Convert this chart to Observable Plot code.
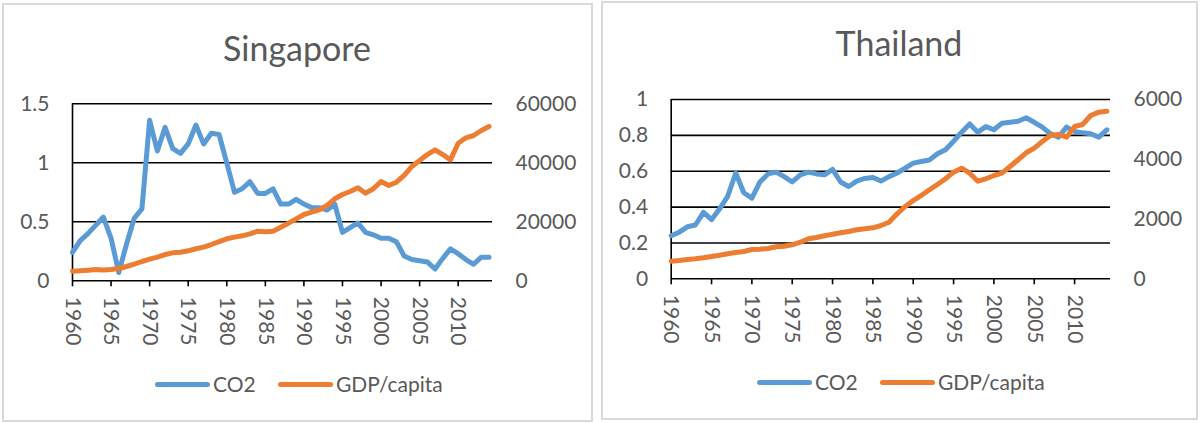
<!DOCTYPE html>
<html>
<head>
<meta charset="utf-8">
<script src="https://cdn.jsdelivr.net/npm/d3@7"></script>
<script src="https://cdn.jsdelivr.net/npm/@observablehq/plot@0.6"></script>
<style>
  body { margin: 0; background: #fff; font-family: Lato, "Open Sans", sans-serif; color: #595959; }
  #page { position: relative; width: 1200px; height: 423px; overflow: hidden; }
  .panel { position: absolute; border: 2px solid #d9d9d9; box-sizing: border-box; }
  .title { position: absolute; font-size: 34px; line-height: 1; white-space: nowrap; transform: translateX(-50%); }
  .chart { position: absolute; top: 90px; }
  .swatch { position: absolute; height: 5px; border-radius: 3px; }
  .ltext { position: absolute; font-size: 21px; line-height: 1; white-space: nowrap; }
</style>
</head>
<body>
<div id="page"></div>
<script>
// Years shared by both countries
const years = [1960,1961,1962,1963,1964,1965,1966,1967,1968,1969,
  1970,1971,1972,1973,1974,1975,1976,1977,1978,1979,
  1980,1981,1982,1983,1984,1985,1986,1987,1988,1989,
  1990,1991,1992,1993,1994,1995,1996,1997,1998,1999,
  2000,2001,2002,2003,2004,2005,2006,2007,2008,2009,
  2010,2011,2012,2013,2014];
const yearTicks = [1960,1965,1970,1975,1980,1985,1990,1995,2000,2005,2010];

// Singapore
const sgCO2 = [0.24,0.34,0.40,0.47,0.54,0.36,0.07,0.31,0.53,0.61,
  1.36,1.10,1.30,1.12,1.08,1.16,1.32,1.16,1.25,1.24,
  1.00,0.75,0.78,0.84,0.74,0.74,0.78,0.65,0.65,0.69,
  0.65,0.62,0.62,0.60,0.65,0.41,0.45,0.49,0.41,0.39,
  0.36,0.36,0.33,0.21,0.18,0.17,0.16,0.10,0.19,0.27,
  0.23,0.18,0.14,0.20,0.20];
const sgGDP = [3250,3400,3600,3830,3700,3830,4170,4850,5630,6540,
  7330,8000,8900,9480,9700,10170,10850,11400,12300,13300,
  14240,14800,15250,15930,16800,16600,16800,18170,19530,21000,
  22470,23250,24070,25530,27800,29250,30270,31530,29700,31190,
  33660,32300,33430,35700,38750,40780,42800,44400,42800,41000,
  46650,48470,49250,50950,52300];
const sgCO2Ticks = [0, 0.5, 1, 1.5];
const sgGDPTicks = [0, 20000, 40000, 60000];

// Thailand
const thCO2 = [0.24,0.26,0.29,0.30,0.37,0.33,0.39,0.46,0.59,0.48,
  0.45,0.54,0.585,0.595,0.57,0.54,0.58,0.595,0.585,0.58,
  0.61,0.54,0.515,0.545,0.56,0.565,0.545,0.57,0.59,0.617,
  0.645,0.654,0.663,0.697,0.72,0.767,0.818,0.864,0.818,0.849,
  0.831,0.868,0.873,0.879,0.898,0.873,0.846,0.809,0.79,0.846,
  0.822,0.814,0.809,0.79,0.831];
const thGDP = [590,612,646,669,703,746,790,837,880,914,
  981,991,1014,1071,1091,1138,1225,1339,1382,1439,
  1493,1540,1583,1640,1673,1707,1784,1894,2175,2420,
  2620,2788,2978,3156,3347,3568,3702,3534,3266,3347,
  3457,3534,3758,3983,4217,4371,4595,4796,4830,4739,
  5097,5164,5465,5576,5609];
const thCO2Ticks = [0, 0.2, 0.4, 0.6, 0.8, 1];
const thGDPTicks = [0, 2000, 4000, 6000];

const BLUE = "#5B9BD5", ORANGE = "#ED7D31", INK = "#595959";
const page = document.getElementById("page");

function el(tag, cls, css, text) {
  const e = document.createElement(tag);
  if (cls) e.className = cls;
  Object.assign(e.style, css);
  if (text != null) e.textContent = text;
  page.appendChild(e);
  return e;
}

// One dual-axis chart: CO2 on the left scale, GDP/capita drawn against the
// same y scale after dividing by k, with its own right-hand axis.
function chart({co2, gdp, co2Ticks, gdpTicks, margins}) {
  const yMax = co2Ticks[co2Ticks.length - 1];
  const k = gdpTicks[gdpTicks.length - 1] / yMax;
  const rows = years.map((year, i) => ({year, co2: co2[i], gdp: gdp[i]}));
  return Plot.plot({
    width: 600,
    height: 270,
    ...margins,
    style: {fontFamily: "Lato, 'Open Sans', sans-serif", fontSize: "21px", color: INK, background: "transparent", overflow: "visible"},
    x: {domain: [1960, 2014.45]},
    y: {domain: [0, yMax]},
    marks: [
      Plot.gridY(co2Ticks.filter(v => v > 0), {stroke: "#000", strokeOpacity: 1, strokeWidth: 1.6}),
      Plot.ruleY([0], {stroke: "#000", strokeWidth: 1.6}),
      Plot.ruleX([1960], {y1: 0, y2: yMax, stroke: "#000", strokeWidth: 1.6}),
      Plot.axisY(co2Ticks, {anchor: "left", tickSize: 0, tickPadding: 23, label: null, tickFormat: d => String(d)}),
      Plot.axisY(gdpTicks.map(v => v / k), {anchor: "right", tickSize: 0, tickPadding: 23, label: null, tickFormat: d => String(Math.round(d * k))}),
      Plot.axisX(yearTicks, {anchor: "bottom", tickSize: 6, tickPadding: 10, tickRotate: 90, label: null, stroke: "#000", strokeWidth: 1.6, fill: INK, tickFormat: d => String(d)}),
      Plot.line(rows, {x: "year", y: "co2", stroke: BLUE, strokeWidth: 5, strokeLinejoin: "round", strokeLinecap: "round"}),
      Plot.line(rows, {x: "year", y: d => d.gdp / k, stroke: ORANGE, strokeWidth: 5, strokeLinejoin: "round", strokeLinecap: "round"})
    ]
  });
}

function legend(items) {
  for (const it of items) {
    el("div", "swatch", {left: it.x + "px", top: (it.y - 2.5) + "px", width: "55px", background: it.color});
    el("div", "ltext", {left: (it.x + 58) + "px", top: (it.y - 11) + "px"}, it.label);
  }
}

// Singapore panel
el("div", "panel", {left: "2px", top: "3px", width: "591px", height: "419px"});
el("div", "title", {left: "297px", top: "31px"}, "Singapore");
const sg = chart({co2: sgCO2, gdp: sgGDP, co2Ticks: sgCO2Ticks, gdpTicks: sgGDPTicks,
  margins: {marginLeft: 72, marginRight: 108, marginTop: 13.3, marginBottom: 79.7}});
sg.classList.add("chart");
sg.style.left = "0px";
page.appendChild(sg);
legend([
  {x: 155, y: 384, color: BLUE, label: "CO2"},
  {x: 278, y: 384, color: ORANGE, label: "GDP/capita"}
]);

// Thailand panel
el("div", "panel", {left: "601px", top: "1px", width: "597px", height: "419px"});
el("div", "title", {left: "899px", top: "26px"}, "Thailand");
const th = chart({co2: thCO2, gdp: thGDP, co2Ticks: thCO2Ticks, gdpTicks: thGDPTicks,
  margins: {marginLeft: 70.7, marginRight: 90, marginTop: 9, marginBottom: 81.7}});
th.classList.add("chart");
th.style.left = "600px";
page.appendChild(th);
legend([
  {x: 757, y: 382, color: BLUE, label: "CO2"},
  {x: 880, y: 382, color: ORANGE, label: "GDP/capita"}
]);
</script>
</body>
</html>
